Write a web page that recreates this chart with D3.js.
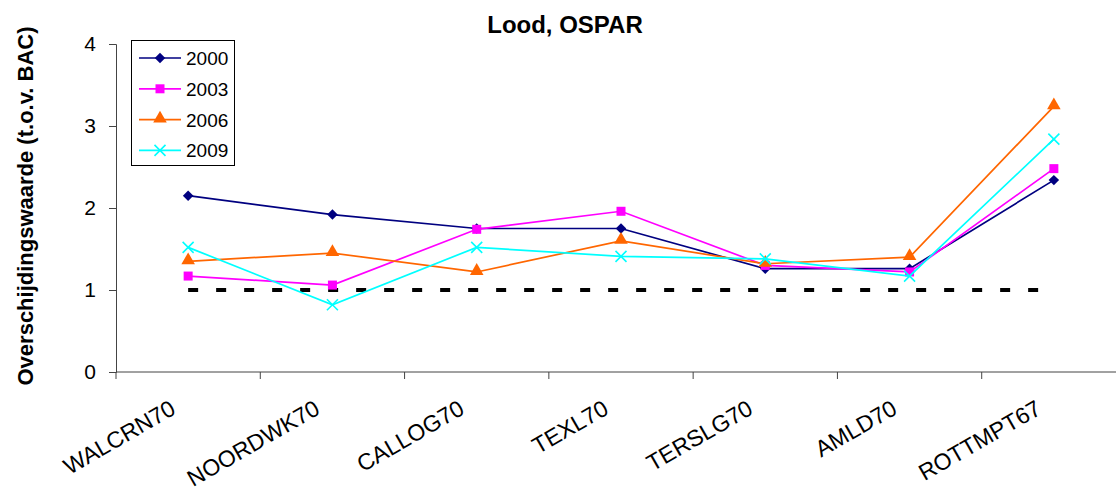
<!DOCTYPE html>
<html>
<head>
<meta charset="utf-8">
<script src="https://cdn.jsdelivr.net/npm/d3@7"></script>
<style>
  html, body { margin: 0; padding: 0; background: #fff; }
  svg { display: block; font-family: "Liberation Sans", Arial, sans-serif; }
</style>
</head>
<body>
<svg id="chart" width="1116" height="491"></svg>
<script>
// Stations along the Dutch coast
const stations = ["WALCRN70", "NOORDWK70", "CALLOG70", "TEXL70", "TERSLG70", "AMLD70", "ROTTMPT67"];

// Lead exceedance relative to BAC, per survey year
const years = ["2000", "2003", "2006", "2009"];
const v2000 = [2.15, 1.92, 1.75, 1.75, 1.26, 1.26, 2.34];
const v2003 = [1.17, 1.06, 1.74, 1.96, 1.30, 1.22, 2.48];
const v2006 = [1.35, 1.45, 1.22, 1.60, 1.32, 1.40, 3.24];
const v2009 = [1.52, 0.82, 1.52, 1.41, 1.38, 1.17, 2.84];
const bac = [1, 1, 1, 1, 1, 1, 1];

const yTicks = [0, 1, 2, 3, 4];

const seriesValues = [v2000, v2003, v2006, v2009];
const colors = ["#000080", "#FF00FF", "#FF6600", "#00FFFF"];
const markers = ["diamond", "square", "triangle", "cross"];

const svg = d3.select("#chart");
const plotLeft = 116, plotRight = 1126, plotTop = 44, plotBottom = 372;

const x = d3.scaleBand().domain(stations).range([plotLeft, plotRight]).padding(0);
const y = d3.scaleLinear().domain([0, 4]).range([plotBottom, plotTop]);
const cx = d => x(d) + x.bandwidth() / 2;

// Title
svg.append("text")
  .attr("x", 565).attr("y", 33)
  .attr("text-anchor", "middle")
  .attr("font-weight", "bold").attr("font-size", 24)
  .text("Lood, OSPAR");

// Y axis title
svg.append("text")
  .attr("transform", "translate(33,206) rotate(-90)")
  .attr("text-anchor", "middle")
  .attr("font-weight", "bold").attr("font-size", 22)
  .text("Overschijdingswaarde (t.o.v. BAC)");

// Y axis
const yAxis = svg.append("g")
  .attr("transform", "translate(" + plotLeft + ",0)")
  .call(d3.axisLeft(y).tickValues(yTicks).tickSize(7).tickPadding(13).tickFormat(d3.format("d")));
yAxis.selectAll("text").attr("font-size", 21).attr("fill", "#000")
  .attr("font-family", "Liberation Sans, Arial, sans-serif");
yAxis.selectAll("line, path").attr("stroke", "#444");

// X axis with ticks on category boundaries
const xAxis = svg.append("g")
  .attr("transform", "translate(0," + plotBottom + ")");
xAxis.append("line")
  .attr("x1", plotLeft).attr("x2", plotRight)
  .attr("stroke", "#444");
xAxis.selectAll("line.tick")
  .data(stations.concat([null]))
  .enter().append("line")
  .attr("class", "tick")
  .attr("x1", (d, i) => plotLeft + i * x.bandwidth())
  .attr("x2", (d, i) => plotLeft + i * x.bandwidth())
  .attr("y1", 0).attr("y2", 7)
  .attr("stroke", "#444");
xAxis.selectAll("text")
  .data(stations)
  .enter().append("text")
  .attr("transform", d => "translate(" + (cx(d) - 11) + ",41) rotate(-30)")
  .attr("text-anchor", "end")
  .attr("font-size", 23)
  .text(d => d);

// BAC reference line
svg.append("path")
  .datum(bac)
  .attr("fill", "none")
  .attr("stroke", "#000")
  .attr("stroke-width", 4)
  .attr("stroke-dasharray", "10,18")
  .attr("d", d3.line().x((d, i) => cx(stations[i])).y(d => y(d)));

function drawMarker(g, type, color, px, py) {
  if (type === "diamond") {
    g.append("path").attr("d", d3.symbol().type(d3.symbolSquare).size(55)())
      .attr("transform", "translate(" + px + "," + py + ") rotate(45)")
      .attr("fill", color);
  } else if (type === "square") {
    g.append("rect").attr("x", px - 4.5).attr("y", py - 4.5)
      .attr("width", 9).attr("height", 9).attr("fill", color);
  } else if (type === "triangle") {
    g.append("path").attr("d", d3.symbol().type(d3.symbolTriangle).size(80)())
      .attr("transform", "translate(" + px + "," + (py - 1) + ")")
      .attr("fill", color);
  } else {
    g.append("path").attr("d", "M-5.5,-5.5L5.5,5.5M-5.5,5.5L5.5,-5.5")
      .attr("transform", "translate(" + px + "," + py + ")")
      .attr("stroke", color).attr("stroke-width", 1.6).attr("fill", "none");
  }
}

// Series lines and markers
const line = d3.line().x((d, i) => cx(stations[i])).y(d => y(d));
seriesValues.forEach((vals, s) => {
  const g = svg.append("g");
  g.append("path").datum(vals)
    .attr("fill", "none").attr("stroke", colors[s]).attr("stroke-width", 1.7)
    .attr("d", line);
  vals.forEach((v, i) => drawMarker(g, markers[s], colors[s], cx(stations[i]), y(v)));
});

// Legend
const lg = svg.append("g");
lg.append("rect")
  .attr("x", 131.5).attr("y", 40.5).attr("width", 103).attr("height", 125)
  .attr("fill", "#fff").attr("stroke", "#000").attr("stroke-width", 1);
years.forEach((yr, s) => {
  const ly = 58 + s * 30.8;
  lg.append("line").attr("x1", 139).attr("x2", 181).attr("y1", ly).attr("y2", ly)
    .attr("stroke", colors[s]).attr("stroke-width", 1.7);
  drawMarker(lg, markers[s], colors[s], 160, ly);
  lg.append("text").attr("x", 186).attr("y", ly + 7)
    .attr("font-size", 19).text(yr);
});
</script>
</body>
</html>
